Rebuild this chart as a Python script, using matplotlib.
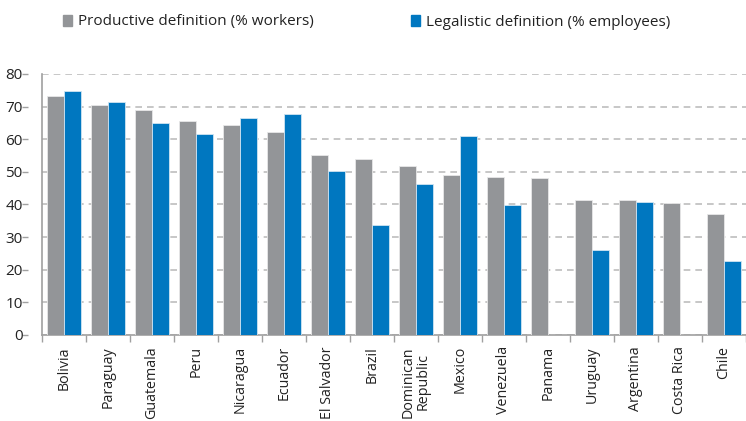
import matplotlib.pyplot as plt
import numpy as np
from matplotlib.patches import Patch

countries = ['Bolivia', 'Paraguay', 'Guatemala', 'Peru', 'Nicaragua', 'Ecuador',
             'El Salvador', 'Brazil', 'Dominican\nRepublic', 'Mexico', 'Venezuela',
             'Panama', 'Uruguay', 'Argentina', 'Costa Rica', 'Chile']
productive = [73.3, 70.5, 68.9, 65.5, 64.4, 62.2, 55.1, 53.9, 51.8, 49.0, 48.5,
              48.0, 41.4, 41.4, 40.4, 37.0]
legalistic = [74.8, 71.5, 65.0, 61.6, 66.6, 67.7, 50.2, 33.7, 46.3, 61.1, 39.7,
              np.nan, 26.0, 40.8, np.nan, 22.7]

gray = '#939598'
blue = '#0077c0'
axcol = '#a0a0a0'
plt.rcParams['font.family'] = ['Open Sans', 'DejaVu Sans']

fig = plt.figure(figsize=(7.46, 4.21), dpi=100)
ax = fig.add_axes([0.0563, 0.2043, 0.9437, 0.62])

x = np.arange(len(countries))
w = 0.385
ax.bar(x - w / 2, productive, w, color=gray, edgecolor='#e8e8e8', linewidth=0.6, zorder=3)
ax.bar(x + w / 2, legalistic, w, color=blue, edgecolor='#d0e4f2', linewidth=0.6, zorder=3)

ax.set_xlim(-0.5, len(countries) - 0.5)
ax.set_ylim(0, 80)
ax.set_yticks(range(0, 81, 10))
ax.yaxis.grid(True, linestyle=(0, (4, 3)), color='#bdbdbd', linewidth=1.2, zorder=0)

ax.set_xticks(x)
ax.set_xticklabels(countries, rotation=90, fontsize=10.3, color='#222222',
                   va='top', ha='center', multialignment='center', linespacing=1.0)
ax.set_xticks(np.arange(-0.5, len(countries), 1), minor=True)
ax.tick_params(axis='x', which='major', length=0, pad=8)
ax.tick_params(axis='x', which='minor', length=5, color=axcol, width=1)

# y ticks sit a little away from the visible axis line
ax.spines['left'].set_position(('outward', 10))
ax.spines['left'].set_color('none')
ax.axvline(-0.5, color=axcol, linewidth=1.2, clip_on=False, zorder=4)
ax.tick_params(axis='y', length=4, color=axcol, width=1, labelsize=11,
               labelcolor='#222222', pad=0)

for s in ['top', 'right']:
    ax.spines[s].set_visible(False)
ax.spines['bottom'].set_color(axcol)
ax.spines['bottom'].set_linewidth(1.2)

handles = [Patch(color=gray, label='Productive definition (% workers)'),
           Patch(color=blue, label='Legalistic definition (% employees)')]
fig.legend(handles=handles, loc='center left', bbox_to_anchor=(63 / 746, 1 - 22 / 421),
           ncol=2, frameon=False, fontsize=11, handlelength=0.6, handleheight=0.75,
           handletextpad=0.35, columnspacing=6.4, labelcolor='#222222',
           borderpad=0, borderaxespad=0)

fig.savefig('out.png', dpi=100)
